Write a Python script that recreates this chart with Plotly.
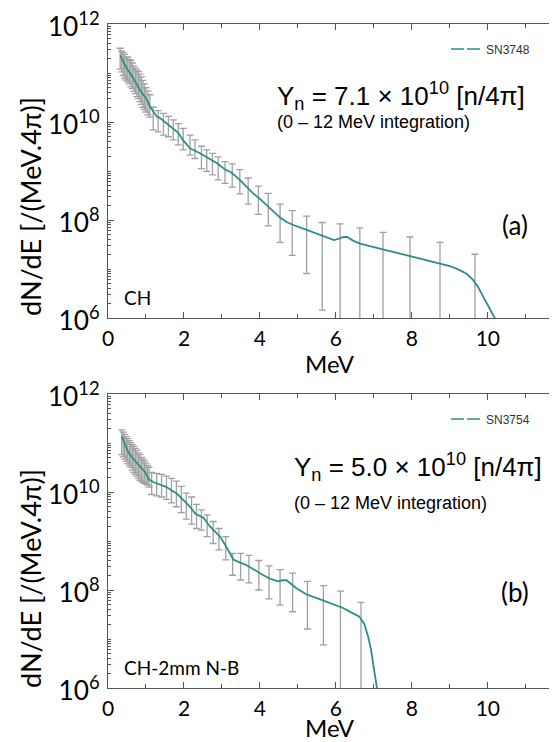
import plotly.graph_objects as go

# ---------------- data: panel (a) CH, SN3748 ----------------
energy_a = [0.32, 0.40, 0.49, 0.58, 0.67, 0.75, 0.84, 0.93, 1.02, 1.10,
            1.19, 1.28, 1.37, 1.50, 1.63, 1.72, 1.85, 1.98, 2.16, 2.42,
            2.60, 2.86, 3.08, 3.25, 3.47, 3.65, 3.82, 4.02, 4.22, 4.40,
            4.53, 4.70, 4.88, 5.23, 5.50, 5.80, 5.95, 6.06, 6.20, 6.30,
            6.45, 6.63, 7.00, 7.33, 7.70, 8.04, 8.40, 8.74, 9.00, 9.26,
            9.45, 9.61, 9.75, 9.88, 10.03, 10.18, 10.30]
flux_a = [2.3e11, 1.7e11, 1.25e11, 1.0e11, 7.8e10, 6.0e10, 4.5e10, 3.5e10, 2.9e10, 2.1e10,
          1.7e10, 1.3e10, 1.2e10, 1.0e10, 8.5e9, 7.4e9, 6.0e9, 4.2e9, 2.9e9, 2.3e9,
          1.9e9, 1.45e9, 1.07e9, 9.3e8, 6.6e8, 4.8e8, 3.5e8, 2.6e8, 1.9e8, 1.4e8,
          1.12e8, 9.1e7, 7.9e7, 6.3e7, 5.2e7, 4.3e7, 3.9e7, 4.1e7, 4.5e7, 4.5e7,
          3.8e7, 3.3e7, 2.8e7, 2.5e7, 2.1e7, 1.8e7, 1.55e7, 1.3e7, 1.15e7, 9.5e6,
          7.9e6, 6.0e6, 4.2e6, 2.7e6, 1.7e6, 1.0e6, 6.3e5]

err_x_a = [0.32, 0.36, 0.40, 0.44, 0.48, 0.52, 0.56, 0.60, 0.64, 0.68,
           0.72, 0.76, 0.80, 0.84, 0.88, 0.92, 0.96, 1.00, 1.05, 1.10,
           1.19, 1.32, 1.46, 1.59, 1.72, 1.85, 1.98, 2.16, 2.29,
           2.46, 2.60, 2.75, 2.90, 3.08, 3.27, 3.47, 3.69, 3.96, 4.22,
           4.53, 4.85, 5.23, 5.64, 6.11, 6.63, 7.24, 7.95, 8.74, 9.66]
err_y_a = [2.2e11, 2.0e11, 1.7e11, 1.5e11, 1.3e11, 1.15e11, 1.05e11, 9.6e10, 8.6e10, 7.6e10,
           6.8e10, 5.9e10, 5.2e10, 4.5e10, 4.0e10, 3.6e10, 3.2e10, 3.0e10, 2.6e10, 2.1e10,
           1.7e10, 1.3e10, 1.05e10, 8.9e9, 7.4e9, 6.0e9, 4.2e9, 2.9e9, 2.6e9,
           2.2e9, 1.9e9, 1.6e9, 1.4e9, 1.07e9, 9.2e8, 6.6e8, 4.5e8, 2.9e8, 1.9e8,
           1.12e8, 8.0e7, 6.3e7, 4.7e7, 4.2e7, 3.3e7, 2.6e7, 1.9e7, 1.3e7, 5.5e6]
err_hi_a = [3.2e11, 2.8e11, 2.6e11, 2.4e11, 2.1e11, 2.1e11, 1.9e11, 1.8e11, 1.6e11, 1.4e11,
            1.26e11, 1.15e11, 1.07e11, 9.5e10, 8.3e10, 7.1e10, 6.0e10, 5.0e10, 4.3e10, 3.6e10,
            2.0e10, 1.7e10, 1.5e10, 1.3e10, 1.1e10, 9.3e9, 7.4e9, 5.4e9, 4.3e9,
            3.2e9, 2.7e9, 2.3e9, 1.95e9, 1.55e9, 1.4e9, 1.07e9, 7.2e8, 4.9e8, 3.5e8,
            2.1e8, 1.55e8, 1.2e8, 8.9e7, 8.3e7, 6.9e7, 5.6e7, 4.5e7, 3.5e7, 2.0e7]
err_lo_a = [1.2e11, 1.05e11, 8.9e10, 7.9e10, 7.2e10, 6.6e10, 6.0e10, 5.2e10, 4.8e10, 4.2e10,
            3.8e10, 3.3e10, 3.0e10, 2.6e10, 2.3e10, 2.0e10, 1.8e10, 1.6e10, 1.4e10, 1.26e10,
            6.9e9, 6.3e9, 5.4e9, 5.0e9, 4.3e9, 3.4e9, 2.7e9, 2.1e9, 1.8e9,
            1.12e9, 9.8e8, 8.3e8, 6.6e8, 5.6e8, 4.7e8, 3.4e8, 2.1e8, 1.3e8, 7.6e7,
            3.5e7, 1.9e7, 8.1e6, 1.45e6, 0, 0, 0, 0, 0, 0]

# ---------------- data: panel (b) CH-2mm N-B, SN3754 ----------------
energy_b = [0.36, 0.45, 0.53, 0.64, 0.75, 0.86, 0.97, 1.08, 1.19, 1.37,
            1.54, 1.70, 1.81, 1.98, 2.16, 2.30, 2.42, 2.51, 2.68, 2.95,
            3.10, 3.30, 3.45, 3.65, 3.85, 4.09, 4.30, 4.48, 4.60, 4.70,
            4.95, 5.23, 5.50, 5.75, 6.00, 6.19, 6.40, 6.61, 6.75, 6.85,
            6.92, 6.98, 7.04, 7.09, 7.14]
flux_b = [1.35e11, 9.3e10, 6.6e10, 5.0e10, 3.9e10, 3.2e10, 2.6e10, 1.8e10, 1.6e10, 1.4e10,
          1.26e10, 1.05e10, 9.3e9, 6.9e9, 5.0e9, 3.6e9, 3.2e9, 3.0e9, 2.0e9, 1.23e9,
          7.9e8, 4.2e8, 3.7e8, 3.2e8, 2.6e8, 2.0e8, 1.66e8, 1.5e8, 1.58e8, 1.58e8,
          1.1e8, 8.1e7, 6.8e7, 5.8e7, 4.9e7, 4.3e7, 3.5e7, 2.9e7, 2.0e7, 1.1e7,
          6.3e6, 3.2e6, 1.7e6, 9.8e5, 5e5]

err_x_b = [0.36, 0.40, 0.44, 0.48, 0.52, 0.56, 0.60, 0.64, 0.68, 0.72,
           0.76, 0.80, 0.84, 0.88, 0.92, 0.96, 1.00, 1.04, 1.08,
           1.15, 1.28, 1.41, 1.54, 1.67, 1.80, 1.93, 2.06, 2.20, 2.33,
           2.46, 2.61, 2.77, 2.92, 3.10, 3.28, 3.49, 3.71, 3.97, 4.24,
           4.53, 4.86, 5.25, 5.67, 6.12, 6.66]
err_y_b = [1.35e11, 1.12e11, 9.5e10, 7.9e10, 6.9e10, 6.2e10, 5.6e10, 5.0e10, 4.6e10, 4.2e10,
           3.8e10, 3.5e10, 3.3e10, 3.0e10, 2.8e10, 2.6e10, 2.2e10, 1.95e10, 1.8e10,
           1.6e10, 1.5e10, 1.4e10, 1.26e10, 1.1e10, 9.3e9, 7.6e9, 5.8e9, 4.6e9, 3.6e9,
           3.2e9, 2.5e9, 1.8e9, 1.3e9, 7.9e8, 4.5e8, 3.6e8, 3.1e8, 2.3e8, 1.75e8,
           1.55e8, 1.2e8, 8.0e7, 6.0e7, 4.5e7, 2.6e7]
err_hi_b = [1.86e11, 1.66e11, 1.5e11, 1.35e11, 1.23e11, 1.12e11, 1.02e11, 9.3e10, 8.5e10, 7.8e10,
            7.1e10, 6.3e10, 5.8e10, 5.1e10, 4.7e10, 4.3e10, 3.9e10, 3.5e10, 3.2e10,
            2.5e10, 2.4e10, 2.3e10, 2.1e10, 1.9e10, 1.66e10, 1.3e10, 9.5e9, 7.9e9, 5.6e9,
            4.3e9, 3.4e9, 2.5e9, 1.8e9, 1.23e9, 5.6e8, 5.6e8, 5.1e8, 4.0e8, 3.1e8,
            2.6e8, 2.2e8, 1.5e8, 1.23e8, 9.5e7, 5.6e7]
err_lo_b = [5.8e10, 5.2e10, 4.7e10, 4.2e10, 3.8e10, 3.5e10, 3.2e10, 2.8e10, 2.5e10, 2.3e10,
            2.1e10, 1.9e10, 1.74e10, 1.66e10, 1.58e10, 1.5e10, 1.45e10, 1.38e10, 1.26e10,
            8.9e9, 8.3e9, 7.9e9, 7.1e9, 6.0e9, 5.0e9, 3.8e9, 2.8e9, 2.2e9, 1.8e9,
            1.66e9, 1.23e9, 8.9e8, 6.6e8, 4.1e8, 2.0e8, 1.6e8, 1.4e8, 1.0e8, 6.6e7,
            4.9e7, 3.6e7, 1.6e7, 7.6e6, 0, 0]

shot_a = "SN3748"
shot_b = "SN3754"
target_a = "CH"
target_b = "CH-2mm N-B"
yield_a = "Y<sub>n</sub> = 7.1 × 10<sup>10</sup> [n/4π]"
yield_b = "Y<sub>n</sub> = 5.0 × 10<sup>10</sup> [n/4π]"
integ_text = "(0 – 12 MeV integration)"

TEAL = "#2e8c8c"
GRAY = "rgb(160,160,160)"
AX = "#555555"
CAL = "Lato"
ARIAL = "Liberation Sans"

# The page body has an 8 px default margin, so the figure is drawn at (8, 8)
# inside the 557x742 window; size the figure to the visible area.
FIG_W, FIG_H = 549, 734
M_L, M_T, M_B = 100, 16, 54
PLOT_W = FIG_W - M_L            # 449 px
PLOT_H = FIG_H - M_T - M_B      # 664 px

fig = go.Figure()


def add_panel(xa, ya, ex, ey, ehi, elo, lx, ly, name, legend_id):
    fig.add_trace(go.Scatter(
        x=ex, y=ey, mode="markers",
        marker=dict(size=1, color="rgba(0,0,0,0)"),
        error_y=dict(type="data", symmetric=False,
                     array=[h - y for h, y in zip(ehi, ey)],
                     arrayminus=[y - l for y, l in zip(ey, elo)],
                     color=GRAY, thickness=1.3, width=3.5),
        xaxis=xa, yaxis=ya, showlegend=False, hoverinfo="skip"))
    fig.add_trace(go.Scatter(
        x=lx, y=ly, mode="lines", line=dict(color=TEAL, width=1.8),
        xaxis=xa, yaxis=ya, showlegend=False))
    fig.add_trace(go.Scatter(
        x=[None], y=[None], mode="lines", name=name,
        line=dict(color=TEAL, width=1.5, dash="13px,3px"),
        xaxis=xa, yaxis=ya, legend=legend_id, showlegend=True))


add_panel("x", "y", err_x_a, err_y_a, err_hi_a, err_lo_a, energy_a, flux_a, shot_a, "legend")
add_panel("x2", "y2", err_x_b, err_y_b, err_hi_b, err_lo_b, energy_b, flux_b, shot_b, "legend2")

xcommon = dict(range=[0, 11.82], showline=True, linecolor=AX, linewidth=1.3,
               mirror="ticks", ticks="inside", ticklen=6, tickwidth=1.2, tickcolor=AX,
               tickmode="linear", tick0=0, dtick=2,
               minor=dict(tickmode="linear", tick0=0, dtick=1, ticks="inside",
                          ticklen=4, tickcolor=AX, tickwidth=1),
               showgrid=False, zeroline=False, automargin=False,
               ticklabeloverflow="allow",
               tickfont=dict(family=CAL, size=21, color="black"),
               ticklabelstandoff=2)
ycommon = dict(type="log", range=[6, 12], showline=True, linecolor=AX, linewidth=1.3,
               mirror=False, ticks="inside", ticklen=6, tickwidth=1.2, tickcolor=AX,
               tickmode="linear", tick0=0, dtick=2, exponentformat="power",
               showexponent="all",
               minor=dict(tickmode="linear", dtick="D1", ticks="inside", ticklen=3,
                          tickcolor=AX, tickwidth=1),
               showgrid=False, zeroline=False, automargin=False,
               ticklabeloverflow="allow", ticklabelshift=3,
               tickfont=dict(family=CAL, size=21, color="black"),
               ticklabelstandoff=3)

# screen pixel -> paper (plot area on screen: x 108..557, y 24..688)
def px_x(p):
    return (p - 8 - M_L) / PLOT_W


def px_y(p):
    return (M_T + PLOT_H - (p - 8)) / PLOT_H


fig.update_layout(
    width=FIG_W, height=FIG_H,
    margin=dict(l=M_L, r=0, t=M_T, b=M_B, autoexpand=False),
    paper_bgcolor="white", plot_bgcolor="white",
    xaxis=dict(xcommon, anchor="y"),
    yaxis=dict(ycommon, domain=[px_y(318), 1.0], anchor="x"),
    xaxis2=dict(xcommon, anchor="y2"),
    yaxis2=dict(ycommon, domain=[0.0, px_y(394)], anchor="x2"),
    legend=dict(x=px_x(446), y=px_y(49), xanchor="left", yanchor="middle",
                bgcolor="rgba(0,0,0,0)", font=dict(family=ARIAL, size=12, color="#333")),
    legend2=dict(x=px_x(446), y=px_y(419), xanchor="left", yanchor="middle",
                 bgcolor="rgba(0,0,0,0)", font=dict(family=ARIAL, size=12, color="#333")),
)

ann = []
panels = [
    ("x", "y", yield_a, target_a, "(a)", 207, 363, 4.39, 10.54, 9.99, 7.90),
    ("x2", "y2", yield_b, target_b, "(b)", 579, 727, 4.84, 10.52, 9.77, 7.96),
]
for xr, yr, yld, tgt, lab, ylab_px, mev_px, yl_x, yl_y, in_y, lab_y in panels:
    ann.append(dict(x=yl_x, y=yl_y, xref=xr, yref=yr, text=yld, showarrow=False,
                    xanchor="left", yanchor="middle",
                    font=dict(family=ARIAL, size=26, color="black")))
    ann.append(dict(x=yl_x, y=in_y, xref=xr, yref=yr, text=integ_text, showarrow=False,
                    xanchor="left", yanchor="middle",
                    font=dict(family=ARIAL, size=18, color="black")))
    ann.append(dict(x=10.72, y=lab_y, xref=xr, yref=yr, text=lab, showarrow=False,
                    xanchor="center", yanchor="middle",
                    font=dict(family=CAL, size=26, color="black")))
    ann.append(dict(x=0.37, y=6.42, xref=xr, yref=yr, text=tgt, showarrow=False,
                    xanchor="left", yanchor="middle",
                    font=dict(family=CAL, size=19, color="black")))
    ann.append(dict(x=px_x(330), y=px_y(mev_px), xref="paper", yref="paper", text="MeV",
                    showarrow=False, xanchor="center", yanchor="middle",
                    font=dict(family=CAL, size=24, color="black")))
    ann.append(dict(x=px_x(30), y=px_y(ylab_px), xref="paper", yref="paper",
                    text="dN/dE [/(MeV.4π)]", textangle=-90, showarrow=False,
                    xanchor="center", yanchor="middle",
                    font=dict(family=CAL, size=27, color="black")))

fig.update_layout(annotations=ann)

fig.write_html("out.html")
